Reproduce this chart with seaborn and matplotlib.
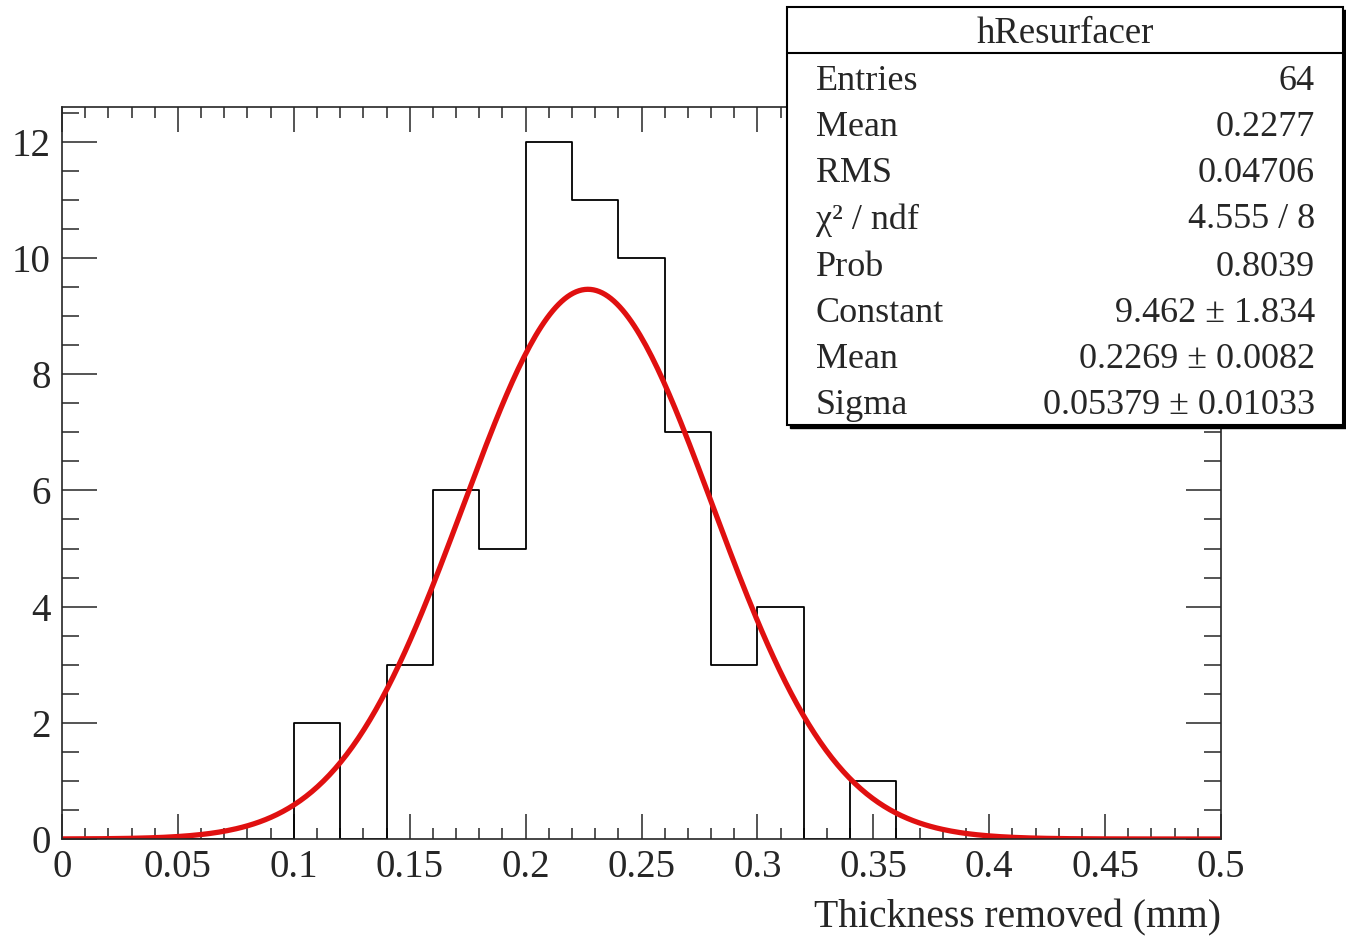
import numpy as np
import pandas as pd
import seaborn as sns
from matplotlib import pyplot as plt
from matplotlib.patches import Rectangle
from matplotlib.ticker import MultipleLocator, FormatStrFormatter, FuncFormatter

# histogram bins (width 0.02 mm) and counts
bin_edges = [round(0.02 * i, 2) for i in range(26)]
counts = [0, 0, 0, 0, 0, 2, 0, 3, 6, 5, 12, 11, 10, 7, 3, 4, 0, 1, 0, 0, 0, 0, 0, 0, 0]

# gaussian fit parameters shown in the stats box
fit_constant = 9.462
fit_mean = 0.2269
fit_sigma = 0.05379

stat_labels = ["Entries", "Mean", "RMS", "\u03c7\u00b2 / ndf", "Prob", "Constant", "Mean", "Sigma"]
stat_values = ["64", "0.2277", "0.04706", "4.555 / 8", "0.8039",
               "9.462 \u00b1 1.834", "0.2269 \u00b1 0.0082", "0.05379 \u00b1 0.01033"]

sns.set_style("ticks")
plt.rcParams['font.family'] = ['Liberation Serif', 'DejaVu Serif']

centers = [(bin_edges[i] + bin_edges[i + 1]) / 2 for i in range(len(counts))]
df = pd.DataFrame({'x': centers, 'n': counts})

fit_x = np.linspace(0, 0.5, 400)
fit_df = pd.DataFrame({'x': fit_x,
                       'y': fit_constant * np.exp(-0.5 * ((fit_x - fit_mean) / fit_sigma) ** 2)})

fig = plt.figure(figsize=(13.46, 9.36), dpi=100)
ax = fig.add_axes([62 / 1346, 1 - 839 / 936, (1221 - 62) / 1346, (839 - 107) / 936])

sns.histplot(data=df, x='x', weights='n', bins=bin_edges, element='step', fill=False,
             color='black', linewidth=1.3, ax=ax)
sns.lineplot(data=fit_df, x='x', y='y', color='#e01010', linewidth=3.8, ax=ax)

ax.set_xlim(0, 0.5)
ax.set_ylim(0, 12.6)
ax.xaxis.set_major_locator(MultipleLocator(0.05))
ax.xaxis.set_minor_locator(MultipleLocator(0.01))
ax.yaxis.set_major_locator(MultipleLocator(2))
ax.yaxis.set_minor_locator(MultipleLocator(0.5))
ax.xaxis.set_major_formatter(FuncFormatter(lambda v, p: f"{v:g}"))
ax.yaxis.set_major_formatter(FormatStrFormatter('%d'))

ax.tick_params(axis='x', which='both', direction='in', top=True, labelsize=28, width=1.1, pad=7)
ax.tick_params(axis='x', which='major', length=18)
ax.tick_params(axis='x', which='minor', length=8)
ax.tick_params(axis='y', which='both', direction='in', right=True, labelsize=28, width=1.1, pad=8)
ax.tick_params(axis='y', which='major', length=25)
ax.tick_params(axis='y', which='minor', length=12)
for s in ax.spines.values():
    s.set_visible(True)
    s.set_linewidth(1.2)

ax.set_xlabel("Thickness removed (mm)", fontsize=28.5, loc='right', labelpad=10)
ax.set_ylabel("")

# stats box
bx0, bx1 = 787 / 1346, 1343 / 1346
by0, by1 = 1 - 425 / 936, 1 - 7 / 936
fig.patches.append(Rectangle((bx0 + 3 / 1346, by0 - 3 / 936), bx1 - bx0, by1 - by0,
                             transform=fig.transFigure, facecolor='black', edgecolor='black',
                             zorder=5))
fig.patches.append(Rectangle((bx0, by0), bx1 - bx0, by1 - by0, transform=fig.transFigure,
                             facecolor='white', edgecolor='black', linewidth=1.5, zorder=6))
fig.lines.append(plt.Line2D([bx0, bx1], [1 - 53 / 936, 1 - 53 / 936], transform=fig.transFigure,
                            color='black', linewidth=1.5, zorder=7))
fig.text((bx0 + bx1) / 2, 1 - 34 / 936, "hResurfacer", ha='center', va='center',
         fontsize=26.5, zorder=8)
row_y = [81, 127, 174, 220, 267, 314, 360, 405]
for lab, val, y in zip(stat_labels, stat_values, row_y):
    fig.text(816 / 1346, 1 - y / 936, lab, ha='left', va='center', fontsize=26, zorder=8)
    fig.text(1315 / 1346, 1 - y / 936, val, ha='right', va='center', fontsize=26, zorder=8)

plt.savefig('out.png', dpi=100)
